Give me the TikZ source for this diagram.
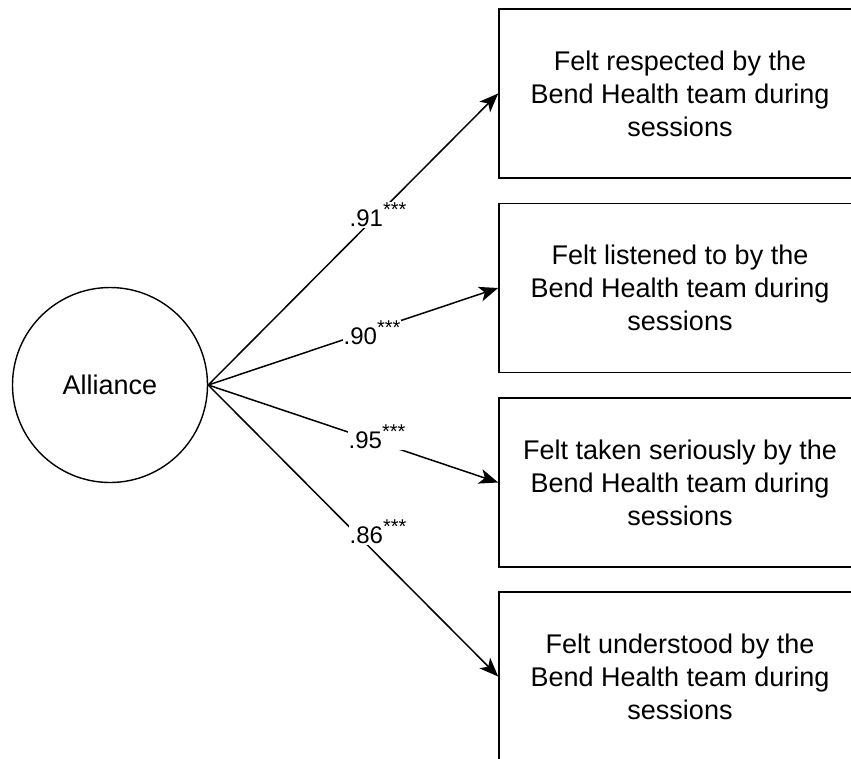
\documentclass[tikz,border=0pt]{standalone}
\usepackage{fontspec}
\setmainfont{Liberation Sans}
\usetikzlibrary{arrows.meta}
\newcommand\sigstars{\raisebox{0.4em}{\fontsize{20}{20}\selectfont ***}}
\begin{document}
\begin{tikzpicture}[x=1pt,y=-1pt,
 box/.style={draw, line width=1.6pt, minimum width=362pt, minimum height=169pt, align=center, font=\fontsize{27}{33}\selectfont, inner sep=0pt},
 latent/.style={draw, circle, line width=1.4pt, minimum size=195pt, inner sep=0pt, font=\fontsize{27}{33}\selectfont},
 load/.style={line width=1.5pt, -{Stealth[length=19pt,width=15pt,inset=5pt]}},
 coef/.style={fill=white, inner sep=1pt, font=\fontsize{24}{28}\selectfont}]
\useasboundingbox (0,0) rectangle (851,758);
\clip (0,0) rectangle (851,758);
\node[latent] (al) at (110,385) {Alliance};
\node[box] (b1) at (680,93.5) {Felt respected by the\\Bend Health team during\\sessions};
\node[box] (b2) at (680,288) {Felt listened to by the\\Bend Health team during\\sessions};
\node[box] (b3) at (680,482.5) {Felt taken seriously by the\\Bend Health team during\\sessions};
\node[box] (b4) at (680,676.5) {Felt understood by the\\Bend Health team during\\sessions};
\draw[load] (al.east) -- (b1.west);
\draw[load] (al.east) -- (b2.west);
\draw[load] (al.east) -- (b3.west);
\draw[load] (al.east) -- (b4.west);
\node[coef] (c1) at (378,215) {.91\sigstars};
\node[coef] (c2) at (372,333) {.90\sigstars};
\node[coef] (c3) at (377,437) {.95\sigstars};
\node[coef] (c4) at (378,532) {.86\sigstars};
\end{tikzpicture}
\end{document}
